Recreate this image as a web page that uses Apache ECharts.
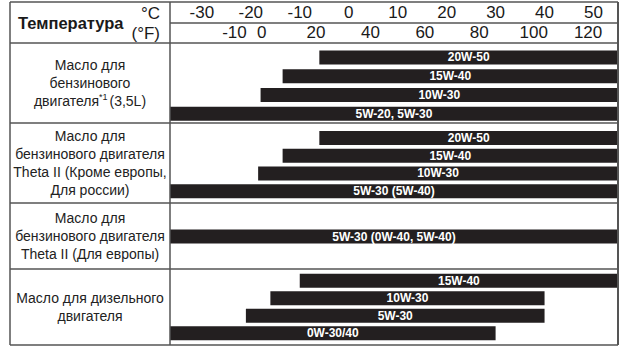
<!DOCTYPE html>
<html>
<head>
<meta charset="utf-8">
<script src="https://cdn.jsdelivr.net/npm/echarts@6/dist/echarts.min.js"></script>
<style>
  html, body { margin: 0; padding: 0; background: #fff; }
  #chart { width: 628px; height: 353px; }
</style>
</head>
<body>
<div id="chart"></div>
<script>
// axis range in °C (bars touching the edges run past the scale)
const minC = -36.5;
const maxC = 55;

// tick labels
const ticksC = [-30, -20, -10, 0, 10, 20, 30, 40, 50];
const ticksF = [-10, 0, 20, 40, 60, 80, 100, 120];

// section labels (left column)
const sectionLabels = [
  'Масло для\nбензинового\nдвигателя{sup|*1}(3,5L)',
  'Масло для\nбензинового двигателя\nTheta II (Кроме европы,\nДля россии)',
  'Масло для\nбензинового двигателя\nTheta II (Для европы)',
  'Масло для дизельного\nдвигателя'
];

// oil grades per section, with the temperature range (°C) of each bar
const grades1 = ['20W-50', '15W-40', '10W-30', '5W-20, 5W-30'];
const from1 = [-6, -13.5, -18, minC];
const to1 = [maxC, maxC, maxC, maxC];

const grades2 = ['20W-50', '15W-40', '10W-30', '5W-30 (5W-40)'];
const from2 = [-6, -13.5, -18.5, minC];
const to2 = [maxC, maxC, maxC, maxC];

const grades3 = ['5W-30 (0W-40, 5W-40)'];
const from3 = [minC];
const to3 = [maxC];

const grades4 = ['15W-40', '10W-30', '5W-30', '0W-30/40'];
const from4 = [-10, -16, -21, minC];
const to4 = [maxC, 40, 40, 30];

const cToF = c => c * 9 / 5 + 32;

const chart = echarts.init(document.getElementById('chart'), null, { renderer: 'svg' });

const labelFont = '"Liberation Sans", Arial, sans-serif';
const lineColor = '#555';

function rangeSeries(idx, grades, from, to) {
  return {
    type: 'custom',
    xAxisIndex: idx + 2,
    yAxisIndex: idx + 1,
    data: grades.map((g, i) => [i, from[i], to[i]]),
    encode: { x: [1, 2], y: 0 },
    renderItem: function (params, api) {
      const cat = api.value(0);
      const a = api.coord([api.value(1), cat]);
      const b = api.coord([api.value(2), cat]);
      const h = 14;
      return {
        type: 'rect',
        shape: { x: a[0], y: a[1] - h / 2, width: b[0] - a[0], height: h },
        style: { fill: '#231f20' },
        textContent: {
          type: 'text',
          style: {
            text: grades[params.dataIndex],
            fill: '#fff',
            font: 'bold 12px ' + labelFont
          }
        },
        textConfig: { position: 'inside' }
      };
    }
  };
}

// body grids: top / height for each section's rows
const bodyGrids = [
  { top: 48, height: 75, cats: grades1 },
  { top: 129, height: 71, cats: grades2 },
  { top: 229, height: 15, cats: grades3 },
  { top: 272, height: 70, cats: grades4 }
];

const grids = [{ left: 170, right: 10, top: 23, height: 20 }];
const xAxes = [
  {
    gridIndex: 0, type: 'value', position: 'top', min: minC, max: maxC,
    axisLine: { show: false }, axisTick: { show: false }, splitLine: { show: false },
    axisLabel: { customValues: ticksC, margin: 2, color: '#1a1a1a', fontSize: 17, fontFamily: labelFont }
  },
  {
    gridIndex: 0, type: 'value', position: 'bottom', min: cToF(minC), max: cToF(maxC),
    axisLine: { show: false }, axisTick: { show: false }, splitLine: { show: false },
    axisLabel: { customValues: ticksF, inside: true, margin: 2, color: '#1a1a1a', fontSize: 17, fontFamily: labelFont }
  }
];
const yAxes = [{ gridIndex: 0, type: 'value', show: false }];

bodyGrids.forEach((g, i) => {
  grids.push({ left: 170, right: 10, top: g.top, height: g.height });
  xAxes.push({ gridIndex: i + 1, type: 'value', min: minC, max: maxC, show: false, splitLine: { show: false } });
  yAxes.push({ gridIndex: i + 1, type: 'category', data: g.cats, inverse: true, show: false });
});

// table lines and left-column text
const L = 10, M = 170, R = 618;
const hLines = [[L, 2], [M, 23], [L, 43], [L, 123], [L, 203], [L, 269], [L, 345]];
const sectionCenters = [83, 163, 236, 307];

const graphics = [];
hLines.forEach(([x0, y]) => {
  graphics.push({ type: 'line', shape: { x1: x0, y1: y, x2: R, y2: y }, style: { stroke: lineColor, lineWidth: 1.5 }, z: 10 });
});
[L, M, R].forEach(x => {
  graphics.push({ type: 'line', shape: { x1: x, y1: 2, x2: x, y2: 345 }, style: { stroke: lineColor, lineWidth: x === R ? 2 : 1.5 }, z: 10 });
});
graphics.push({
  type: 'text', x: 18, y: 23,
  style: { text: 'Температура', font: 'bold 16.5px ' + labelFont, fill: '#1a1a1a', verticalAlign: 'middle' }
});
graphics.push({
  type: 'text', x: 160, y: 13,
  style: { text: '°C', font: '17px ' + labelFont, fill: '#1a1a1a', align: 'right', verticalAlign: 'middle' }
});
graphics.push({
  type: 'text', x: 160, y: 33,
  style: { text: '(°F)', font: '17px ' + labelFont, fill: '#1a1a1a', align: 'right', verticalAlign: 'middle' }
});
sectionLabels.forEach((t, i) => {
  graphics.push({
    type: 'text', x: 90, y: sectionCenters[i],
    style: {
      text: t, font: '14px ' + labelFont, fill: '#222',
      align: 'center', verticalAlign: 'middle', lineHeight: 18,
      rich: { sup: { fontSize: 9, verticalAlign: 'top', lineHeight: 18, fill: '#222', padding: [0, 2, 6, 0] } }
    }
  });
});

const options = {
  backgroundColor: '#fff',
  animation: false,
  grid: grids,
  xAxis: xAxes,
  yAxis: yAxes,
  series: [
    rangeSeries(0, grades1, from1, to1),
    rangeSeries(1, grades2, from2, to2),
    rangeSeries(2, grades3, from3, to3),
    rangeSeries(3, grades4, from4, to4)
  ],
  graphic: graphics
};

chart.setOption(options);
</script>
</body>
</html>
